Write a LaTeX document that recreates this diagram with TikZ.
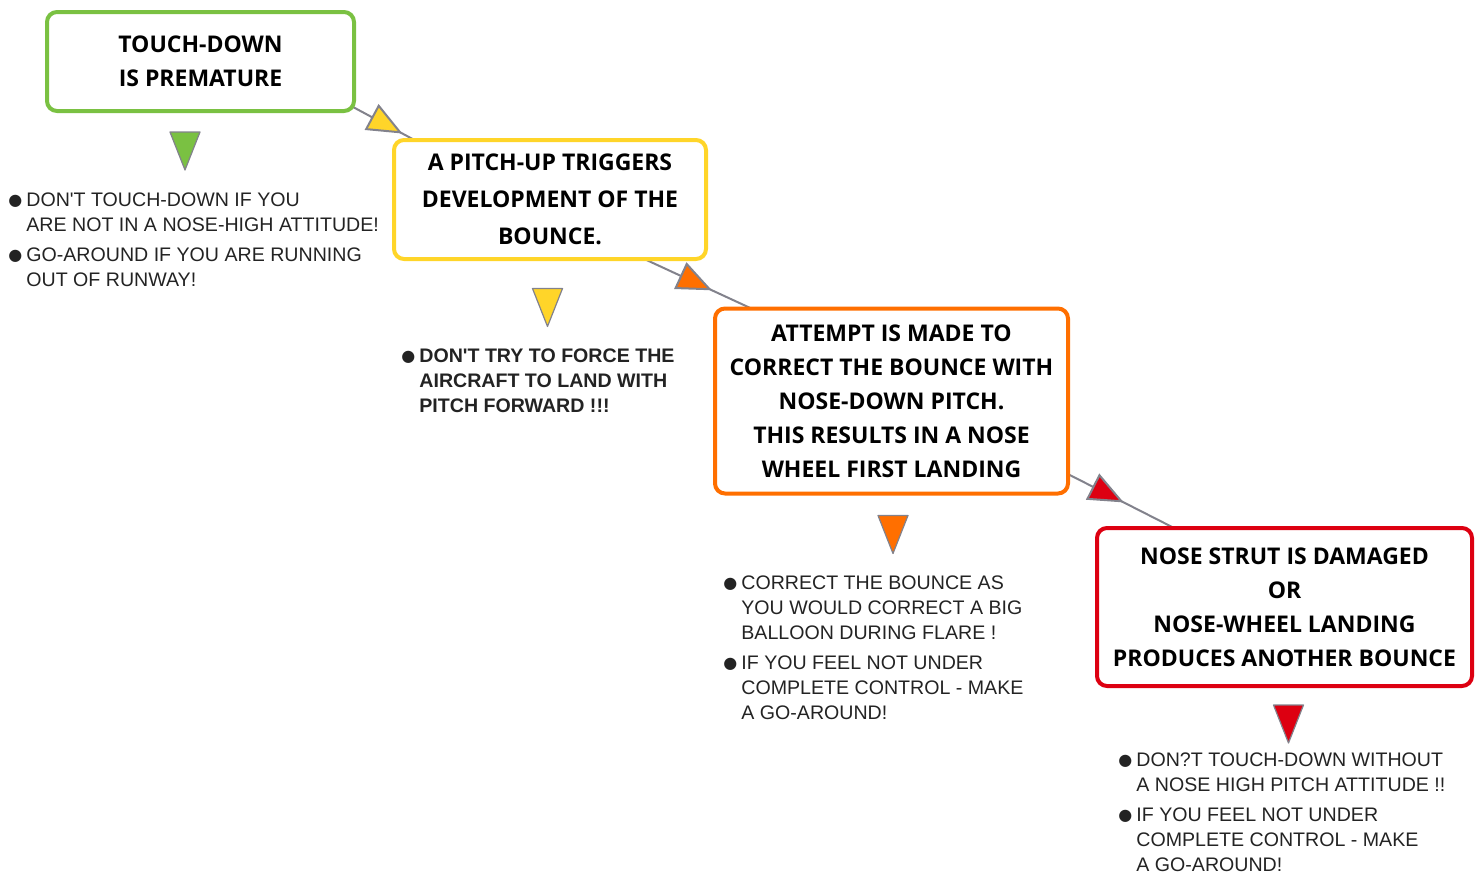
\documentclass[tikz,border=0pt]{standalone}
\usepackage{fontspec}
\setmainfont{Liberation Sans}
\newfontfamily\boxfont{Open Sans}
\newfontfamily\dotfont{DejaVu Sans}
\usetikzlibrary{arrows.meta,decorations.markings,backgrounds,calc}
\definecolor{stepgreen}{RGB}{122,193,66}
\definecolor{stepyellow}{RGB}{255,213,41}
\definecolor{steporange}{RGB}{255,111,0}
\definecolor{stepred}{RGB}{221,0,17}
\definecolor{linkgray}{RGB}{130,130,140}
\definecolor{hintgray}{RGB}{35,35,35}
\newcommand{\dotmark}{\makebox[9pt][l]{\raisebox{0.4pt}{\dotfont\fontsize{8}{10}\selectfont●}}}
\tikzset{
  stage/.style={draw=#1, line width=2pt, rounded corners=5pt, fill=white, align=center, inner sep=0pt,
    font=\boxfont\bfseries\fontsize{11.5}{17}\selectfont},
  hint/.style={anchor=base west, inner sep=0pt, text=hintgray, font=\fontsize{9.8}{12.5}\selectfont},
  link/.style 2 args={draw=linkgray, line width=1pt, postaction={decorate},
    decoration={markings, mark=at position #1 with {\arrow{Triangle[length=17.5pt,width=14.5pt,fill=#2]}}}},
  marker/.style={draw=linkgray, line width=0.6pt, line join=round},
}
\begin{document}
\begin{tikzpicture}[x=0.5pt,y=-0.5pt]
  \useasboundingbox (0,0) rectangle (1480,873);
  \node[stage=stepgreen, minimum width=153.5pt, minimum height=49.5pt] (b1) at (200.5,61.5) {TOUCH-DOWN\\IS PREMATURE};
  \node[stage=stepyellow, minimum width=156pt, minimum height=59.5pt] (b2) at (550,199.5) {A PITCH-UP TRIGGERS\\[1.5pt]DEVELOPMENT OF THE\\[1.5pt]BOUNCE.};
  \node[stage=steporange, minimum width=176.5pt, minimum height=92.5pt] (b3) at (891.5,401) {ATTEMPT IS MADE TO\\CORRECT THE BOUNCE WITH\\NOSE-DOWN PITCH.\\THIS RESULTS IN A NOSE\\WHEEL FIRST LANDING};
  \node[stage=stepred, minimum width=187.5pt, minimum height=79pt] (b4) at (1284.5,607) {NOSE STRUT IS DAMAGED\\OR\\NOSE-WHEEL LANDING\\PRODUCES ANOTHER BOUNCE};
  \begin{scope}[on background layer]
    \draw[link={0.78}{stepyellow}] ($(b1.south east)+(-16,-13)$) -- ($(b2.north west)+(28,5)$);
    \draw[link={0.6}{steporange}] ($(b2.south east)+(-68,-4)$) -- ($(b3.north west)+(47,6)$);
    \draw[link={0.55}{stepred}] ($(b3.south east)+(-15,-28)$) -- ($(b4.north west)+(85,5)$);
  \end{scope}
  \foreach \x/\y/\c in {185/151/stepgreen, 547.5/307.5/stepyellow, 893/534.5/steporange, 1288.5/724/stepred}
    \draw[marker, fill=\c] (\x-15,\y-19) -- (\x+15,\y-19) -- (\x,\y+19) -- cycle;
  \node[hint] (h1) at (8,206) {\begin{tabular}[t]{@{}l@{}l@{}}
    \dotmark & DON\textquotesingle T TOUCH-DOWN IF YOU\\
             & ARE NOT IN A NOSE-HIGH ATTITUDE!\\[2.5pt]
    \dotmark & GO-AROUND IF YOU ARE RUNNING\\
             & OUT OF RUNWAY!
  \end{tabular}};
  \node[hint, font=\bfseries\fontsize{9.8}{12.5}\selectfont] (h2) at (401,362) {\begin{tabular}[t]{@{}l@{}l@{}}
    \dotmark & DON\textquotesingle T TRY TO FORCE THE\\
             & AIRCRAFT TO LAND WITH\\
             & PITCH FORWARD !!!
  \end{tabular}};
  \node[hint] (h3) at (723,589) {\begin{tabular}[t]{@{}l@{}l@{}}
    \dotmark & CORRECT THE BOUNCE AS\\
             & YOU WOULD CORRECT A BIG\\
             & BALLOON DURING FLARE !\\[2.5pt]
    \dotmark & IF YOU FEEL NOT UNDER\\
             & COMPLETE CONTROL - MAKE\\
             & A GO-AROUND!
  \end{tabular}};
  \node[hint] (h4) at (1118,766) {\begin{tabular}[t]{@{}l@{}l@{}}
    \dotmark & DON?T TOUCH-DOWN WITHOUT\\
             & A NOSE HIGH PITCH ATTITUDE !!\\[2.5pt]
    \dotmark & IF YOU FEEL NOT UNDER\\
             & COMPLETE CONTROL - MAKE\\
             & A GO-AROUND!
  \end{tabular}};
\end{tikzpicture}
\end{document}
